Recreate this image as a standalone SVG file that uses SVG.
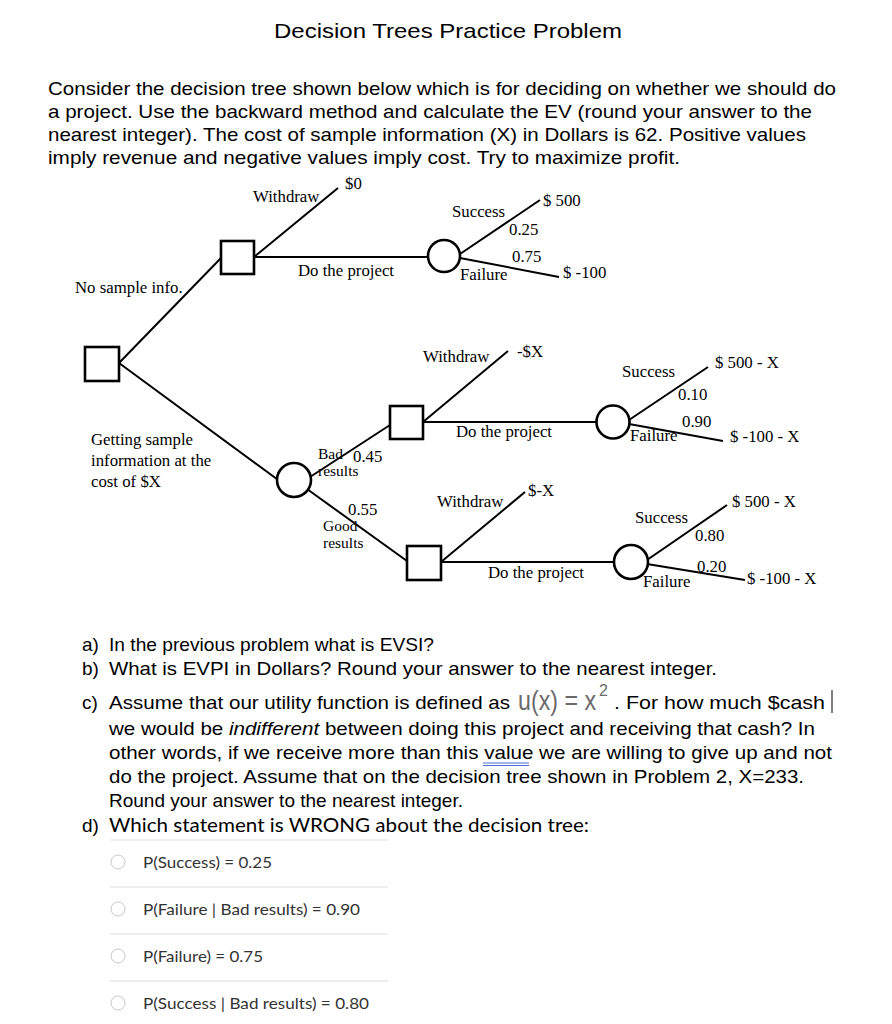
<svg xmlns="http://www.w3.org/2000/svg" width="892" height="1024" viewBox="0 0 892 1024">
<style>
.h{font-family:"Liberation Sans",Arial,sans-serif;fill:#000}
.t{font-family:"Liberation Serif","Times New Roman",serif;font-size:16.8px;fill:#000}
.ts{font-family:"Liberation Serif","Times New Roman",serif;font-size:15.5px;fill:#000}
.q{font-family:"Liberation Sans",Arial,sans-serif;font-size:19px;fill:#000}
.l{font-family:Lato,"Liberation Sans",sans-serif;fill:#333}
.e{stroke:#000;stroke-width:2;fill:none}
.dn{stroke:#000;stroke-width:2.6;fill:#fff}
.sep{stroke:#ddd;stroke-width:1}
.rad{fill:#fff;stroke:#c8c8c8;stroke-width:1}
</style>
<rect width="892" height="1024" fill="#fff"/>
<text class="h" x="448" y="38" font-size="21" text-anchor="middle" textLength="348" lengthAdjust="spacingAndGlyphs">Decision Trees Practice Problem</text>
<g id="intro">
<text class="q" x="48" y="95" textLength="788" lengthAdjust="spacingAndGlyphs">Consider the decision tree shown below which is for deciding on whether we should do</text>
<text class="q" x="48" y="118" textLength="764" lengthAdjust="spacingAndGlyphs">a project. Use the backward method and calculate the EV (round your answer to the</text>
<text class="q" x="48" y="141" textLength="758" lengthAdjust="spacingAndGlyphs">nearest integer). The cost of sample information (X) in Dollars is 62. Positive values</text>
<text class="q" x="48" y="164" textLength="632" lengthAdjust="spacingAndGlyphs">imply revenue and negative values imply cost. Try to maximize profit.</text>
</g>
<g id="connectors">
<line class="e" x1="119" y1="363" x2="221" y2="258"/>
<line class="e" x1="254" y1="257" x2="338" y2="188"/>
<line class="e" x1="254" y1="257" x2="428" y2="257"/>
<line class="e" x1="460" y1="254" x2="540" y2="200"/>
<line class="e" x1="460" y1="258" x2="559" y2="277"/>
<line class="e" x1="119" y1="363" x2="281" y2="482"/>
<line class="e" x1="310" y1="477" x2="390" y2="425"/>
<line class="e" x1="423" y1="422" x2="508" y2="351"/>
<line class="e" x1="423" y1="422" x2="597" y2="422"/>
<line class="e" x1="629" y1="420" x2="708" y2="367"/>
<line class="e" x1="629" y1="424" x2="723" y2="441"/>
<line class="e" x1="307" y1="489" x2="407" y2="561"/>
<line class="e" x1="441" y1="562" x2="525" y2="492"/>
<line class="e" x1="441" y1="562" x2="614" y2="562"/>
<line class="e" x1="647" y1="560" x2="727" y2="505"/>
<line class="e" x1="647" y1="564" x2="745" y2="580"/>
</g>
<g id="root"><rect class="dn" x="85" y="347" width="34" height="34"/></g>
<g id="d-nosample"><rect class="dn" x="221" y="241" width="33" height="33"/></g>
<g id="c-nosample"><circle class="dn" cx="444" cy="256" r="16"/></g>
<g id="c-sample"><circle class="dn" cx="294" cy="480" r="17"/></g>
<g id="d-bad"><rect class="dn" x="390" y="406" width="33" height="33"/></g>
<g id="c-bad"><circle class="dn" cx="613" cy="422" r="16.5"/></g>
<g id="d-good"><rect class="dn" x="407" y="546" width="34" height="34"/></g>
<g id="c-good"><circle class="dn" cx="631" cy="562" r="17"/></g>
<g id="labels">
<text class="t" x="253" y="202">Withdraw</text>
<text class="t" x="345" y="189">$0</text>
<text class="t" x="75" y="293">No sample info.</text>
<text class="t" x="298" y="276">Do the project</text>
<text class="t" x="452" y="217">Success</text>
<text class="t" x="543" y="206">$ 500</text>
<text class="t" x="509" y="235">0.25</text>
<text class="t" x="512" y="262">0.75</text>
<text class="t" x="460" y="280">Failure</text>
<text class="t" x="563" y="278">$ -100</text>
<text class="t" x="91" y="445">Getting sample</text>
<text class="t" x="91" y="466">information at the</text>
<text class="t" x="91" y="487">cost of $X</text>
<text class="ts" x="318" y="459">Bad</text>
<text class="t" x="353" y="462">0.45</text>
<text class="ts" x="318" y="476">results</text>
<text class="t" x="423" y="362">Withdraw</text>
<text class="t" x="517" y="357">-$X</text>
<text class="t" x="622" y="377">Success</text>
<text class="t" x="715" y="368">$ 500 - X</text>
<text class="t" x="678" y="400">0.10</text>
<text class="t" x="682" y="427">0.90</text>
<text class="t" x="456" y="437">Do the project</text>
<text class="t" x="630" y="441">Failure</text>
<text class="t" x="730" y="442">$ -100 - X</text>
<text class="t" x="348" y="515">0.55</text>
<text class="ts" x="323" y="531">Good</text>
<text class="ts" x="323" y="548">results</text>
<text class="t" x="437" y="507">Withdraw</text>
<text class="t" x="528" y="496">$-X</text>
<text class="t" x="488" y="578">Do the project</text>
<text class="t" x="635" y="523">Success</text>
<text class="t" x="732" y="507">$ 500 - X</text>
<text class="t" x="695" y="541">0.80</text>
<text class="t" x="697" y="572">0.20</text>
<text class="t" x="643" y="587">Failure</text>
<text class="t" x="747" y="584">$ -100 - X</text>
</g>
<g id="questions">
<text class="q" x="82" y="651">a)</text>
<text class="q" x="109" y="651" textLength="325" lengthAdjust="spacingAndGlyphs">In the previous problem what is EVSI?</text>
<text class="q" x="82" y="675">b)</text>
<text class="q" x="109" y="675" textLength="608" lengthAdjust="spacingAndGlyphs">What is EVPI in Dollars? Round your answer to the nearest integer.</text>
<text class="q" x="82" y="709">c)</text>
<text class="q" x="109" y="709" textLength="401" lengthAdjust="spacingAndGlyphs">Assume that our utility function is defined as</text>
<text x="518" y="710" font-family="'Liberation Sans',Arial,sans-serif" font-size="27" fill="#6a6a6a" textLength="78" lengthAdjust="spacingAndGlyphs">u(x) = x</text>
<text x="599" y="696" font-family="'Liberation Sans',Arial,sans-serif" font-size="16" fill="#6a6a6a">2</text>
<text class="q" x="614" y="709" textLength="211" lengthAdjust="spacingAndGlyphs">. For how much $cash</text>
<line x1="832" y1="690" x2="832" y2="713" stroke="#000" stroke-width="1"/>
<text class="q" x="109" y="735" textLength="706" lengthAdjust="spacingAndGlyphs">we would be <tspan font-style="italic">indifferent</tspan> between doing this project and receiving that cash? In</text>
<text class="q" x="109" y="759" textLength="723" lengthAdjust="spacingAndGlyphs">other words, if we receive more than this value we are willing to give up and not</text>
<line x1="483" y1="763" x2="529" y2="763" stroke="#4a6cd4" stroke-width="1"/>
<line x1="483" y1="765.5" x2="529" y2="765.5" stroke="#4a6cd4" stroke-width="1"/>
<text class="q" x="109" y="783" textLength="695" lengthAdjust="spacingAndGlyphs">do the project. Assume that on the decision tree shown in Problem 2, X=233.</text>
<text class="q" x="109" y="807" textLength="354" lengthAdjust="spacingAndGlyphs">Round your answer to the nearest integer.</text>
<text class="q" x="82" y="832">d)</text>
<text class="l" x="109" y="832" font-size="19" style="fill:#000" textLength="480" lengthAdjust="spacingAndGlyphs">Which statement is WRONG about the decision tree:</text>
</g>
<g id="options">
<line class="sep" x1="110" y1="840" x2="388" y2="840"/>
<circle class="rad" cx="118" cy="862" r="7"/>
<text class="l" x="143" y="868" font-size="16" textLength="129" lengthAdjust="spacingAndGlyphs">P(Success) = 0.25</text>
<line class="sep" x1="110" y1="887" x2="388" y2="887"/>
<circle class="rad" cx="118" cy="909" r="7"/>
<text class="l" x="143" y="915" font-size="16" textLength="217" lengthAdjust="spacingAndGlyphs">P(Failure | Bad results) = 0.90</text>
<line class="sep" x1="110" y1="934" x2="388" y2="934"/>
<circle class="rad" cx="118" cy="956" r="7"/>
<text class="l" x="143" y="962" font-size="16" textLength="120" lengthAdjust="spacingAndGlyphs">P(Failure) = 0.75</text>
<line class="sep" x1="110" y1="981" x2="388" y2="981"/>
<circle class="rad" cx="118" cy="1003" r="7"/>
<text class="l" x="143" y="1009" font-size="16" textLength="226" lengthAdjust="spacingAndGlyphs">P(Success | Bad results) = 0.80</text>
</g>
</svg>
